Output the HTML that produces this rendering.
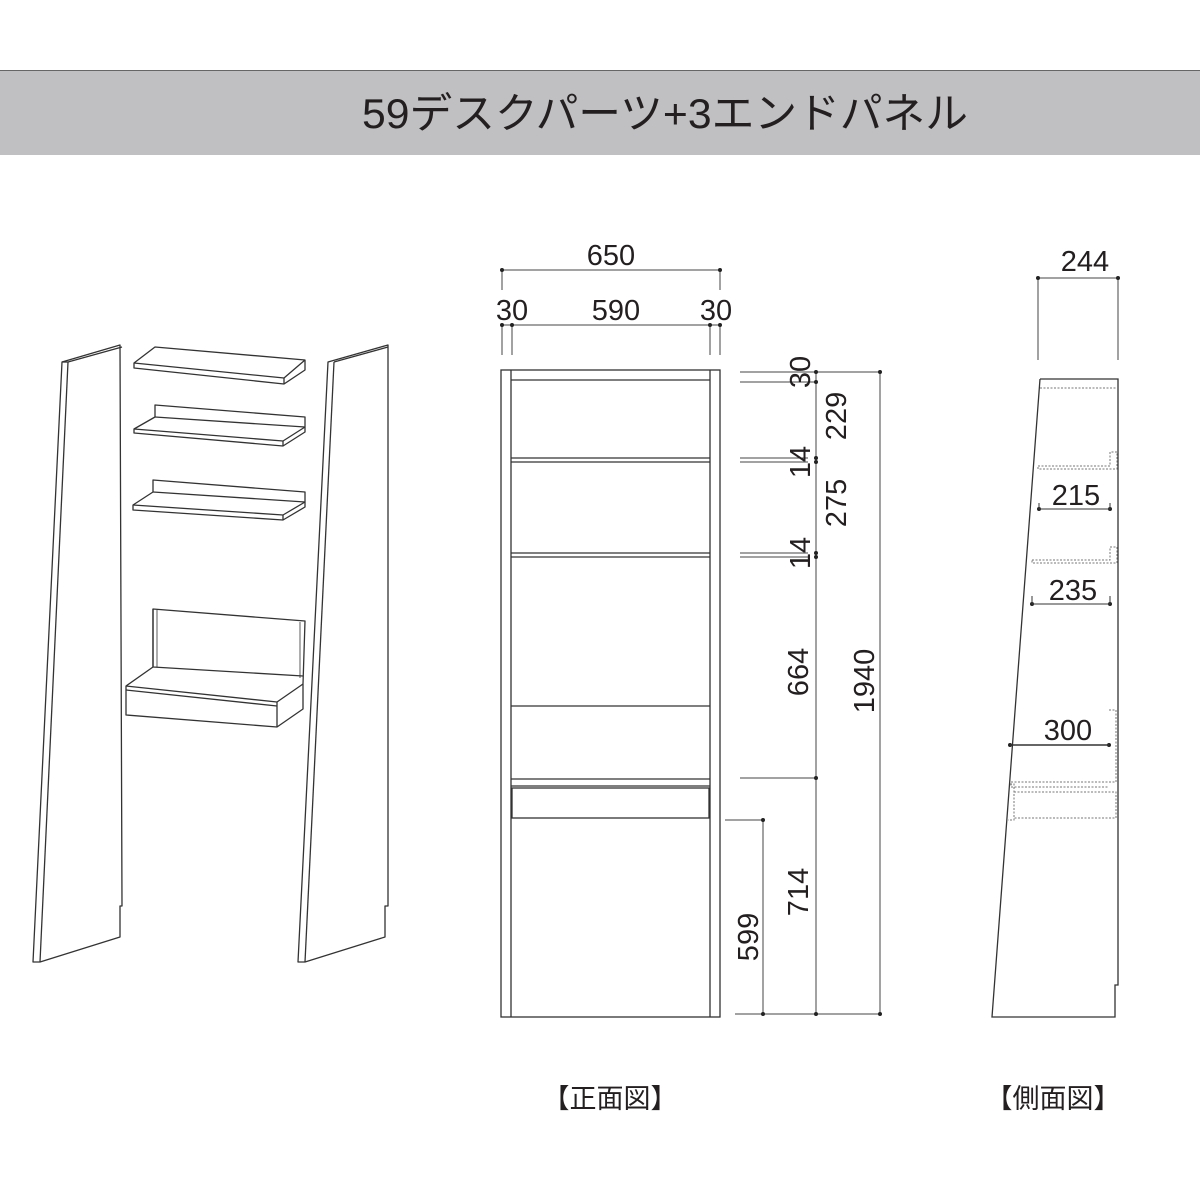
<!DOCTYPE html>
<html><head><meta charset="utf-8"><style>
html,body{margin:0;padding:0;background:#fff}
svg{display:block}
text{font-family:"Liberation Sans","Noto Sans CJK JP",sans-serif;fill:#231f20}
</style></head><body>
<svg width="1200" height="1200" viewBox="0 0 1200 1200" xmlns="http://www.w3.org/2000/svg">
<rect x="0" y="70" width="1200" height="85" fill="#c0c0c2"/>
<line x1="0" y1="70.5" x2="1200" y2="70.5" stroke="#666" stroke-width="1"/>
<text x="362" y="128" font-size="42" textLength="606" lengthAdjust="spacingAndGlyphs">59デスクパーツ+3エンドパネル</text>

<g fill="#fff" stroke="#333" stroke-width="1.3" stroke-linejoin="round">
<!-- left panel -->
<polygon points="62,362 120,345 122,906 120,906 120,937 40,962 33,962"/>
<line x1="68" y1="362" x2="40" y2="962"/>
<line x1="62" y1="362" x2="68" y2="362"/>
<polyline points="68,362 122,347" fill="none"/>
<!-- right panel -->
<polygon points="328,362 388,345 388,906 385,906 385,937 305,962 298,962"/>
<line x1="334" y1="362" x2="305" y2="962"/>
<polyline points="334,362 388,347" fill="none"/>
<!-- shelf 1 -->
<polygon points="134,363 155,347 305,360 305,370 284,384 134,368"/>
<polyline points="134,363 284,378 305,360" fill="none"/>
<line x1="284" y1="378" x2="284" y2="384"/>
<!-- shelf 2 -->
<polygon points="134,429 155,417 155,405 305,417 305,432 283,446 134,433"/>
<polyline points="134,429 283,441 305,427" fill="none"/>
<polyline points="155,417 305,427" fill="none"/>
<line x1="283" y1="441" x2="283" y2="446"/>
<!-- shelf 3 -->
<polygon points="133,505 153,492 153,480 305,492 305,507 283,520 133,510"/>
<polyline points="133,505 283,515 305,502" fill="none"/>
<polyline points="153,492 305,502" fill="none"/>
<line x1="283" y1="515" x2="283" y2="520"/>
<!-- desk -->
<polygon points="153,609 305,621 303,684 303,709 277,727 126,715 126,686 153,667"/>
<polyline points="153,609 153,667 303,676" fill="none"/>
<line x1="157" y1="610" x2="157" y2="667" stroke-width="0.8"/>
<line x1="300" y1="622" x2="300" y2="678" stroke-width="0.8"/>
<polyline points="126,686 277,702 303,684" fill="none"/>
<line x1="126" y1="690" x2="277" y2="706"/>
<line x1="277" y1="702" x2="277" y2="727"/>
</g>

<!-- front view -->
<g fill="none" stroke="#333" stroke-width="1.3">
<rect x="501" y="370" width="219" height="647"/>
<line x1="511" y1="370" x2="511" y2="1017"/>
<line x1="710" y1="370" x2="710" y2="1017"/>
<line x1="511" y1="380" x2="710" y2="380"/>
<line x1="511" y1="458" x2="710" y2="458"/>
<line x1="511" y1="462" x2="710" y2="462"/>
<line x1="511" y1="553" x2="710" y2="553"/>
<line x1="511" y1="557" x2="710" y2="557"/>
<line x1="511" y1="706" x2="710" y2="706"/>
<line x1="511" y1="779" x2="710" y2="779"/>
<line x1="511" y1="786" x2="710" y2="786"/>
<rect x="512" y="788" width="197" height="30"/>
</g>

<g stroke="#444" stroke-width="1" fill="none">
<line x1="502" y1="270" x2="720" y2="270"/>
<line x1="502" y1="270" x2="502" y2="290"/><line x1="720" y1="270" x2="720" y2="290"/>
<line x1="502" y1="325" x2="720" y2="325"/>
<line x1="502" y1="325" x2="502" y2="355"/><line x1="512" y1="325" x2="512" y2="355"/>
<line x1="710" y1="325" x2="710" y2="355"/><line x1="720" y1="325" x2="720" y2="355"/>
<line x1="816" y1="372" x2="816" y2="1014"/>
<line x1="880" y1="372" x2="880" y2="1014"/>
<line x1="763" y1="820" x2="763" y2="1014"/>
<line x1="740" y1="372" x2="880" y2="372"/>
<line x1="740" y1="382" x2="816" y2="382"/>
<line x1="740" y1="458" x2="808" y2="458"/><line x1="740" y1="462" x2="808" y2="462"/>
<line x1="740" y1="553" x2="808" y2="553"/><line x1="740" y1="557" x2="808" y2="557"/>
<line x1="740" y1="778" x2="816" y2="778"/>
<line x1="725" y1="820" x2="763" y2="820"/>
<line x1="735" y1="1014" x2="880" y2="1014"/>
<line x1="1038" y1="278" x2="1118" y2="278"/>
<line x1="1038" y1="278" x2="1038" y2="360"/><line x1="1118" y1="278" x2="1118" y2="360"/>
</g>
<g fill="#222">
<circle cx="502" cy="270" r="2"/><circle cx="720" cy="270" r="2"/>
<circle cx="502" cy="325" r="2"/><circle cx="512" cy="325" r="2"/><circle cx="710" cy="325" r="2"/><circle cx="720" cy="325" r="2"/>
<circle cx="816" cy="372" r="2"/><circle cx="880" cy="372" r="2"/><circle cx="816" cy="382" r="2"/>
<circle cx="816" cy="458" r="2"/><circle cx="816" cy="462" r="2"/>
<circle cx="816" cy="553" r="2"/><circle cx="816" cy="557" r="2"/>
<circle cx="816" cy="778" r="2"/><circle cx="763" cy="820" r="2"/>
<circle cx="763" cy="1014" r="2"/><circle cx="816" cy="1014" r="2"/><circle cx="880" cy="1014" r="2"/>
<circle cx="1038" cy="278" r="2"/><circle cx="1118" cy="278" r="2"/>
<circle cx="1039" cy="509" r="2"/><circle cx="1110" cy="509" r="2"/>
<circle cx="1032" cy="604" r="2"/><circle cx="1110" cy="604" r="2"/>
<circle cx="1010" cy="745" r="2"/><circle cx="1109" cy="745" r="2"/>
</g>

<g font-size="29">
<text x="611" y="265" text-anchor="middle">650</text>
<text x="512" y="320" text-anchor="middle">30</text>
<text x="616" y="320" text-anchor="middle">590</text>
<text x="716" y="320" text-anchor="middle">30</text>
<text transform="translate(810,372) rotate(-90)" text-anchor="middle">30</text>
<text transform="translate(846,416) rotate(-90)" text-anchor="middle">229</text>
<text transform="translate(810,462) rotate(-90)" text-anchor="middle">14</text>
<text transform="translate(846,503) rotate(-90)" text-anchor="middle">275</text>
<text transform="translate(810,553) rotate(-90)" text-anchor="middle">14</text>
<text transform="translate(808,672) rotate(-90)" text-anchor="middle">664</text>
<text transform="translate(874,681) rotate(-90)" text-anchor="middle">1940</text>
<text transform="translate(808,892) rotate(-90)" text-anchor="middle">714</text>
<text transform="translate(758,937) rotate(-90)" text-anchor="middle">599</text>
<text x="1085" y="271" text-anchor="middle">244</text>
<text x="1076" y="505" text-anchor="middle">215</text>
<text x="1073" y="600" text-anchor="middle">235</text>
<text x="1068" y="740" text-anchor="middle">300</text>
</g>

<!-- side view -->
<g fill="none" stroke="#333" stroke-width="1.3">
<polyline points="1040,379 1118,379 1118,985 1115,985 1115,1017 992,1017 1040,379"/>
<line x1="1039" y1="509" x2="1110" y2="509" stroke-width="1"/>
<line x1="1039" y1="503" x2="1039" y2="509" stroke-width="1"/>
<line x1="1110" y1="503" x2="1110" y2="509" stroke-width="1"/>
<line x1="1032" y1="604" x2="1110" y2="604" stroke-width="1"/>
<line x1="1032" y1="596" x2="1032" y2="604" stroke-width="1"/>
<line x1="1110" y1="596" x2="1110" y2="604" stroke-width="1"/>
<line x1="1010" y1="745" x2="1109" y2="745" stroke-width="1.5"/>
</g>
<g fill="none" stroke="#777" stroke-width="1" stroke-dasharray="2,1.5">
<line x1="1040" y1="388" x2="1117" y2="388"/>
<polyline points="1038,466 1110,466 1110,452 1117,452 1117,469 1038,469 1038,466"/>
<polyline points="1032,560 1110,560 1110,547 1117,547 1117,563 1032,563 1032,560"/>
<polyline points="1109,710 1116,710 1116,782 1011,782 1011,787 1109,787"/>
<polyline points="1014,792 1116,792 1116,818 1014,818 1014,792"/>
<polyline points="1010,784 1014,784 1014,820 1008,820"/>
</g>

<text x="610" y="1108" font-size="27" text-anchor="middle">【正面図】</text>
<text x="1053" y="1108" font-size="27" text-anchor="middle">【側面図】</text>
</svg>
</body></html>
